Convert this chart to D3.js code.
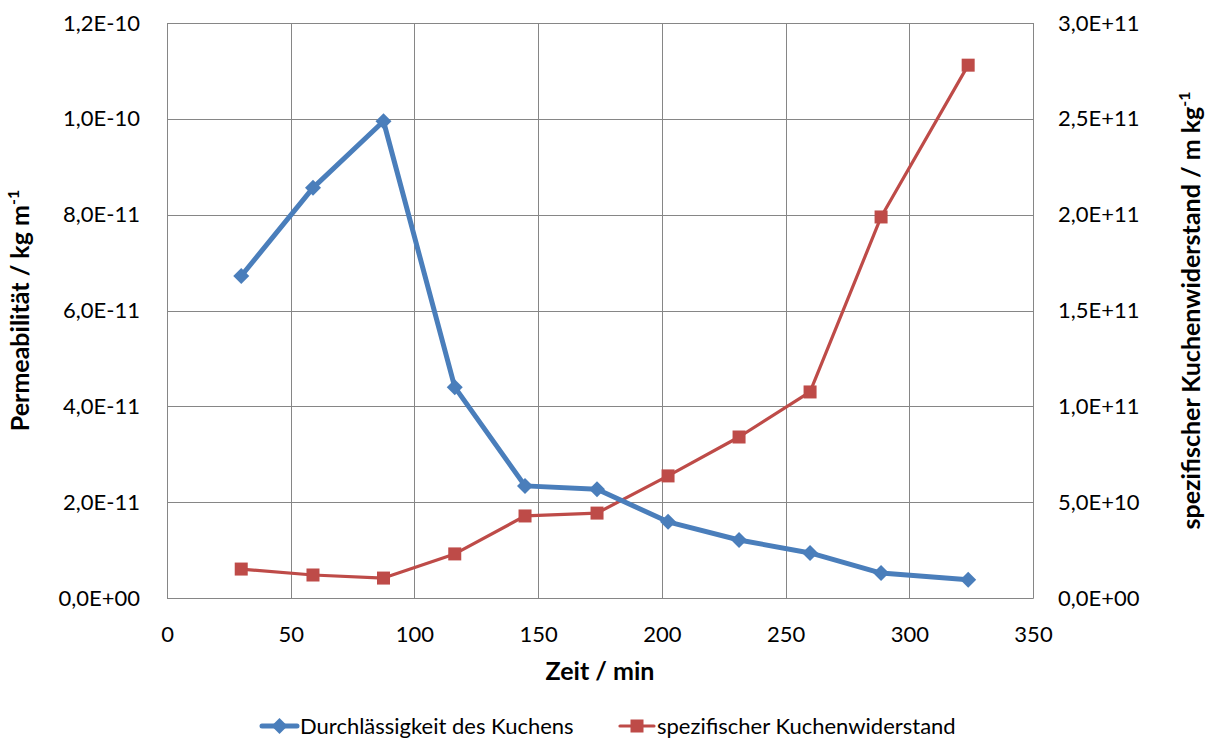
<!DOCTYPE html>
<html>
<head>
<meta charset="utf-8">
<script src="https://cdn.jsdelivr.net/npm/d3@7"></script>
<style>
  html, body { margin: 0; padding: 0; background: #fff; }
  svg { display: block; }
  svg text { font-family: Lato, "Open Sans", sans-serif; }
</style>
</head>
<body>
<svg id="chart" width="1211" height="738"></svg>
<script>
// Zeit / min
const zeit = [30, 59, 87.5, 116.3, 144.7, 173.8, 202.5, 231.2, 259.9, 288.6, 323.8];
// Durchlässigkeit des Kuchens (Permeabilität / kg m^-1)
const permeabilitaet = [6.72e-11, 8.56e-11, 9.95e-11, 4.40e-11, 2.34e-11, 2.27e-11, 1.59e-11, 1.21e-11, 9.4e-12, 5.2e-12, 3.8e-12];
// spezifischer Kuchenwiderstand / m kg^-1
const widerstand = [1.51e10, 1.20e10, 1.04e10, 2.30e10, 4.28e10, 4.43e10, 6.37e10, 8.40e10, 1.075e11, 1.988e11, 2.78e11];

const xTicks = [0, 50, 100, 150, 200, 250, 300, 350];
const yLeftTicks = [0, 2e-11, 4e-11, 6e-11, 8e-11, 1e-10, 1.2e-10];
const yRightTicks = [0, 5e10, 1e11, 1.5e11, 2e11, 2.5e11, 3e11];

const seriesNames = ["Durchlässigkeit des Kuchens", "spezifischer Kuchenwiderstand"];
const colors = ["#4a7ebb", "#be4b48"];

// scientific notation with decimal comma, e.g. 1,2E-10
function sci(v) {
  if (v === 0) return "0,0E+00";
  const e = Math.floor(Math.log10(Math.abs(v)) + 1e-9);
  const m = v / Math.pow(10, e);
  const sign = e < 0 ? "-" : "+";
  const ee = String(Math.abs(e)).padStart(2, "0");
  return m.toFixed(1).replace(".", ",") + "E" + sign + ee;
}

const svg = d3.select("#chart");
const m = { left: 167, right: 1033, top: 23, bottom: 598 };

const x = d3.scaleLinear().domain([0, 350]).range([m.left, m.right]);
const yL = d3.scaleLinear().domain([0, 1.2e-10]).range([m.bottom, m.top]);
const yR = d3.scaleLinear().domain([0, 3e11]).range([m.bottom, m.top]);

const grid = "#868686";
const FONT = "Lato, 'Open Sans', sans-serif";

// vertical gridlines
svg.append("g").selectAll("line").data(xTicks).join("line")
  .attr("x1", d => Math.round(x(d)) + 0.5).attr("x2", d => Math.round(x(d)) + 0.5)
  .attr("y1", m.top).attr("y2", m.bottom)
  .attr("stroke", grid).attr("stroke-width", 1);
// horizontal gridlines
svg.append("g").selectAll("line").data(yLeftTicks).join("line")
  .attr("x1", m.left).attr("x2", m.right)
  .attr("y1", d => Math.round(yL(d)) + 0.5).attr("y2", d => Math.round(yL(d)) + 0.5)
  .attr("stroke", grid).attr("stroke-width", 1);

// axes: labels only, no tick marks
const fs = 22;
function styleAxis(g) {
  g.attr("font-family", FONT).attr("font-size", fs);
  g.select(".domain").attr("stroke", grid);
  g.selectAll("text").attr("fill", "#000");
}
svg.append("g").attr("transform", `translate(0,${m.bottom})`)
  .call(d3.axisBottom(x).tickValues(xTicks).tickSize(0).tickPadding(28).tickFormat(d3.format("d")))
  .call(styleAxis);

svg.append("g").attr("transform", `translate(${m.left},0)`)
  .call(d3.axisLeft(yL).tickValues(yLeftTicks).tickSize(0).tickPadding(27).tickFormat(sci))
  .call(styleAxis);

svg.append("g").attr("transform", `translate(${m.right},0)`)
  .call(d3.axisRight(yR).tickValues(yRightTicks).tickSize(0).tickPadding(25).tickFormat(sci))
  .call(styleAxis);

// axis titles
const tfs = 25;
svg.append("text").attr("x", (m.left + m.right) / 2).attr("y", 680)
  .attr("text-anchor", "middle").attr("font-size", tfs).attr("font-weight", "bold").text("Zeit / min");

const tl = svg.append("text").attr("transform", `translate(29,${(m.top + m.bottom) / 2}) rotate(-90)`)
  .attr("text-anchor", "middle").attr("font-size", tfs).attr("font-weight", "bold");
tl.append("tspan").text("Permeabilität / kg m");
tl.append("tspan").attr("font-size", 16).attr("dy", -10).text("-1");

const tr = svg.append("text").attr("transform", `translate(1200,${(m.top + m.bottom) / 2}) rotate(-90)`)
  .attr("text-anchor", "middle").attr("font-size", tfs).attr("font-weight", "bold");
tr.append("tspan").text("spezifischer Kuchenwiderstand / m kg");
tr.append("tspan").attr("font-size", 16).attr("dy", -10).text("-1");

// series
const lineL = d3.line().x((d, i) => x(zeit[i])).y(d => yL(d));
const lineR = d3.line().x((d, i) => x(zeit[i])).y(d => yR(d));

svg.append("path").datum(widerstand).attr("d", lineR)
  .attr("fill", "none").attr("stroke", colors[1]).attr("stroke-width", 3.2).attr("stroke-linejoin", "round");
svg.append("g").selectAll("rect").data(widerstand).join("rect")
  .attr("x", (d, i) => x(zeit[i]) - 6.5).attr("y", d => yR(d) - 6.5)
  .attr("width", 13).attr("height", 13).attr("fill", colors[1]);

svg.append("path").datum(permeabilitaet).attr("d", lineL)
  .attr("fill", "none").attr("stroke", colors[0]).attr("stroke-width", 5).attr("stroke-linejoin", "round");
svg.append("g").selectAll("path").data(permeabilitaet).join("path")
  .attr("d", "M0,-8L8,0L0,8L-8,0Z")
  .attr("transform", (d, i) => `translate(${x(zeit[i])},${yL(d)})`)
  .attr("fill", colors[0]);

// legend
const legend = svg.append("g").attr("font-size", 22);
const legItems = [
  { x0: 262, x1: 297, tx: 300, marker: "diamond" },
  { x0: 620, x1: 654, tx: 657, marker: "square" }
];
legItems.forEach((it, k) => {
  const ly = 726;
  legend.append("line").attr("x1", it.x0).attr("x2", it.x1).attr("y1", ly).attr("y2", ly)
    .attr("stroke", colors[k]).attr("stroke-width", k === 0 ? 5 : 3.2).attr("stroke-linecap", "round");
  const cx = (it.x0 + it.x1) / 2;
  if (it.marker === "diamond") {
    legend.append("path").attr("d", "M0,-8L8,0L0,8L-8,0Z").attr("transform", `translate(${cx},${ly})`).attr("fill", colors[k]);
  } else {
    legend.append("rect").attr("x", cx - 6.5).attr("y", ly - 6.5).attr("width", 13).attr("height", 13).attr("fill", colors[k]);
  }
  legend.append("text").attr("x", it.tx).attr("y", ly + 8).text(seriesNames[k]);
});
</script>
</body>
</html>
